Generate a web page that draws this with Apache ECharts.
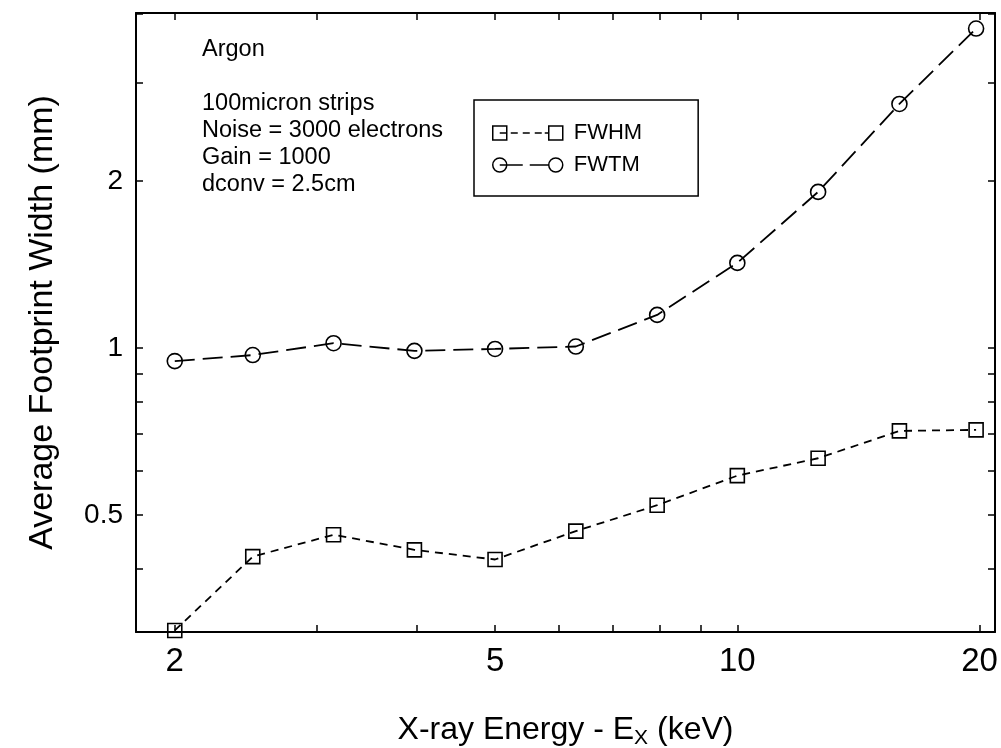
<!DOCTYPE html>
<html>
<head>
<meta charset="utf-8">
<script src="https://cdn.jsdelivr.net/npm/echarts@6/dist/echarts.min.js"></script>
<style>
  html, body { margin: 0; padding: 0; background: #fff; }
  #chart { width: 1001px; height: 748px; }
</style>
</head>
<body>
<div id="chart"></div>
<script>
// X-ray energy (keV)
const energy = [2, 2.5, 3.15, 3.97, 5, 6.3, 7.95, 10, 12.6, 15.9, 19.8];
// footprint widths (mm)
const fwhm = [0.31, 0.421, 0.461, 0.433, 0.416, 0.468, 0.521, 0.589, 0.633, 0.709, 0.712];
const fwtm = [0.947, 0.971, 1.02, 0.988, 0.996, 1.006, 1.147, 1.423, 1.91, 2.75, 3.76];

const xLabels = [2, 5, 10, 20];
const xTicks = [2, 3, 4, 5, 6, 7, 8, 9, 10, 20];
const yLabels = [0.5, 1, 2];
const yTicks = [0.4, 0.5, 0.6, 0.7, 0.8, 0.9, 1, 2, 3, 4];

const notes = ['Argon', '', '100micron strips', 'Noise = 3000 electrons', 'Gain = 1000', 'dconv = 2.5cm'];

const pairs = (xs, ys) => xs.map((x, i) => [x, ys[i]]);

// legend samples: marker - - - marker
const fwhmIcon = 'path://M0 0L14 0L14 14L0 14Z M56 0L70 0L70 14L56 14Z M7 7L14 7 M18 7L25 7 M30 7L37 7 M42 7L49 7 M52 7L56 7';
const fwtmIcon = 'path://M0 7A7 7 0 1 1 14 7A7 7 0 1 1 0 7Z M56 7A7 7 0 1 1 70 7A7 7 0 1 1 56 7Z M7 7L14 7 M14 7L30 7 M37 7L56 7';

const chart = echarts.init(document.getElementById('chart'));

const xBase = {
  type: 'log',
  logBase: 10,
  min: 1.79,
  max: 20.9,
  splitLine: { show: false },
  axisLine: { lineStyle: { color: '#000', width: 2 } },
  axisTick: { inside: true, length: 7, customValues: xTicks, lineStyle: { color: '#000', width: 1.5 } }
};
const yBase = {
  type: 'log',
  logBase: 10,
  min: 0.308,
  max: 4.01,
  splitLine: { show: false },
  axisLine: { lineStyle: { color: '#000', width: 2 } },
  axisTick: { inside: true, length: 7, customValues: yTicks, lineStyle: { color: '#000', width: 1.5 } }
};

chart.setOption({
  animation: false,
  backgroundColor: '#fff',
  textStyle: { fontFamily: 'Liberation Sans, Arial, sans-serif', color: '#000' },
  title: {
    text: notes.join('\n'),
    left: 197,
    top: 31,
    textStyle: { fontSize: 23.5, lineHeight: 27, fontWeight: 'normal', color: '#000' }
  },
  legend: {
    left: 474,
    top: 100,
    orient: 'vertical',
    padding: [22, 56, 20, 18],
    itemGap: 10,
    itemWidth: 70,
    itemHeight: 14,
    borderColor: '#000',
    borderWidth: 1.5,
    itemStyle: { color: 'rgba(0,0,0,0)', borderColor: '#000', borderWidth: 1.5 },
    textStyle: { fontSize: 22, color: '#000', padding: [0, 0, 0, 6] },
    data: [
      { name: 'FWHM', icon: fwhmIcon },
      { name: 'FWTM', icon: fwtmIcon }
    ]
  },
  grid: { left: 136, right: 6, top: 13, bottom: 116, containLabel: false, outerBoundsMode: 'none' },
  xAxis: [
    Object.assign({}, xBase, {
      position: 'bottom',
      name: 'X-ray Energy - E{sub|X} (keV)',
      nameLocation: 'middle',
      nameGap: 80,
      nameTextStyle: {
        fontSize: 32,
        rich: { sub: { fontSize: 21, verticalAlign: 'bottom', padding: [16, 0, 0, 0] } }
      },
      axisLabel: {
        customValues: xLabels,
        margin: 13,
        fontSize: 33,
        color: '#000'
      }
    }),
    Object.assign({}, xBase, { position: 'top', axisLabel: { show: false } })
  ],
  yAxis: [
    Object.assign({}, yBase, {
      position: 'left',
      name: 'Average Footprint Width (mm)',
      nameLocation: 'middle',
      nameGap: 76,
      nameTextStyle: { fontSize: 34 },
      axisLabel: { customValues: yLabels, margin: 13, fontSize: 28, color: '#000' }
    }),
    Object.assign({}, yBase, { position: 'right', axisLabel: { show: false } })
  ],
  series: [
    {
      name: 'FWHM',
      type: 'line',
      data: pairs(energy, fwhm),
      symbol: 'rect',
      symbolSize: 14,
      itemStyle: { color: 'rgba(0,0,0,0)', borderColor: '#000', borderWidth: 1.6 },
      lineStyle: { color: '#000', width: 1.8, type: [8, 6] }
    },
    {
      name: 'FWTM',
      type: 'line',
      data: pairs(energy, fwtm),
      symbol: 'circle',
      symbolSize: 15,
      itemStyle: { color: 'rgba(0,0,0,0)', borderColor: '#000', borderWidth: 1.6 },
      lineStyle: { color: '#000', width: 1.8, type: [20, 8] }
    }
  ]
});
</script>
</body>
</html>
